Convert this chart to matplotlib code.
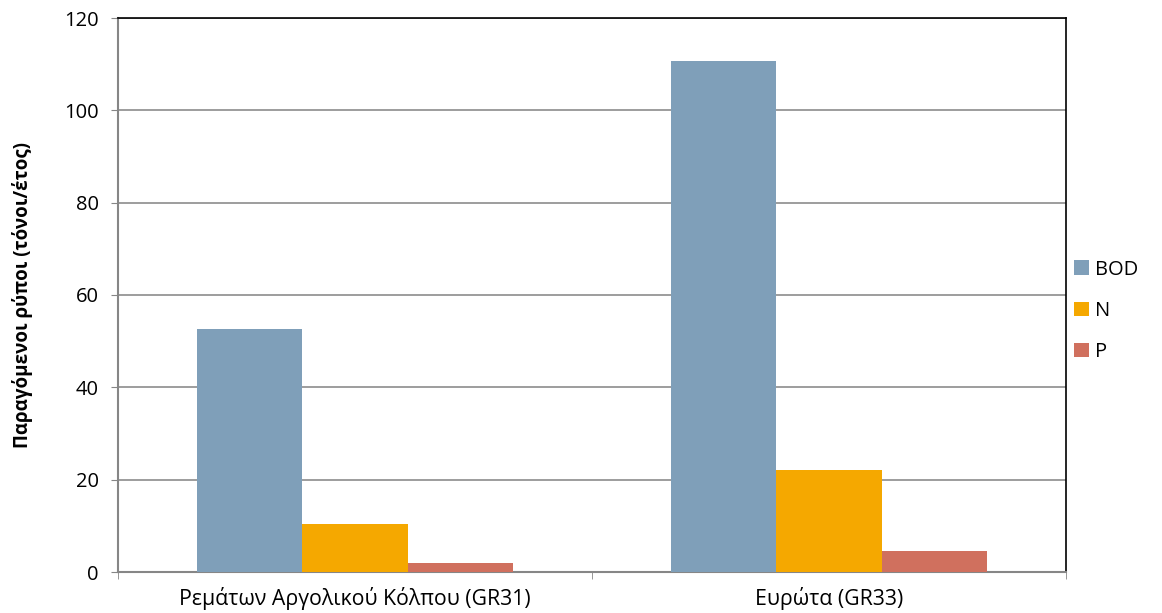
import numpy as np
import matplotlib
matplotlib.use("Agg")
import matplotlib.pyplot as plt

plt.rcParams['font.family'] = ['Open Sans', 'DejaVu Sans']

regions = ['Ρεμάτων Αργολικού Κόλπου (GR31)', 'Ευρώτα (GR33)']
pollutants = ['BOD', 'N', 'P']
loads = {
    'BOD': [52.6, 110.7],
    'N': [10.4, 22.0],
    'P': [2.0, 4.6],
}
colors = {'BOD': '#7F9FB9', 'N': '#F5A800', 'P': '#D0705E'}

fs = 14.5

fig = plt.figure(figsize=(11.62, 6.13), dpi=100)
ax = fig.add_axes([118 / 1162, 41 / 613, 948 / 1162, 554 / 613])

x = np.arange(len(regions))
width = 2 / 9
for i, name in enumerate(pollutants):
    ax.bar(x + (i - 1) * width, loads[name], width, color=colors[name],
           label=name, zorder=3)

ax.set_xlim(-0.5, len(regions) - 0.5)
ax.set_ylim(0, 120)
ax.set_yticks(np.arange(0, 121, 20))
ax.set_xticks(x)
ax.set_xticklabels(regions)
ax.set_xticks([-0.5, 0.5, 1.5], minor=True)
ax.tick_params(axis='x', which='major', length=0, pad=11, labelsize=15.3)
ax.tick_params(axis='x', which='minor', length=5, color='#868686')
ax.tick_params(axis='y', length=5, color='#868686', labelsize=fs, pad=9)

ax.grid(axis='y', color='#8C8C8C', linewidth=1.2, zorder=0)
for side in ('top', 'right'):
    ax.spines[side].set_color('black')
    ax.spines[side].set_linewidth(1.2)
for side in ('left', 'bottom'):
    ax.spines[side].set_color('#868686')
    ax.spines[side].set_linewidth(1.5)

ax.set_ylabel('Παραγόμενοι ρύποι (τόνοι/έτος)', fontsize=13.5,
              fontweight='bold')
ax.yaxis.set_label_coords(33 / 1162, 1 - 295 / 613, transform=fig.transFigure)

ax.legend(loc='center left', bbox_to_anchor=(1066 / 1162, 1 - 311 / 613),
          bbox_transform=fig.transFigure, frameon=False,
          fontsize=fs, handlelength=0.75, handleheight=0.75,
          handletextpad=0.3, labelspacing=1.05, borderaxespad=0.0)

fig.savefig('out.png', dpi=100)
